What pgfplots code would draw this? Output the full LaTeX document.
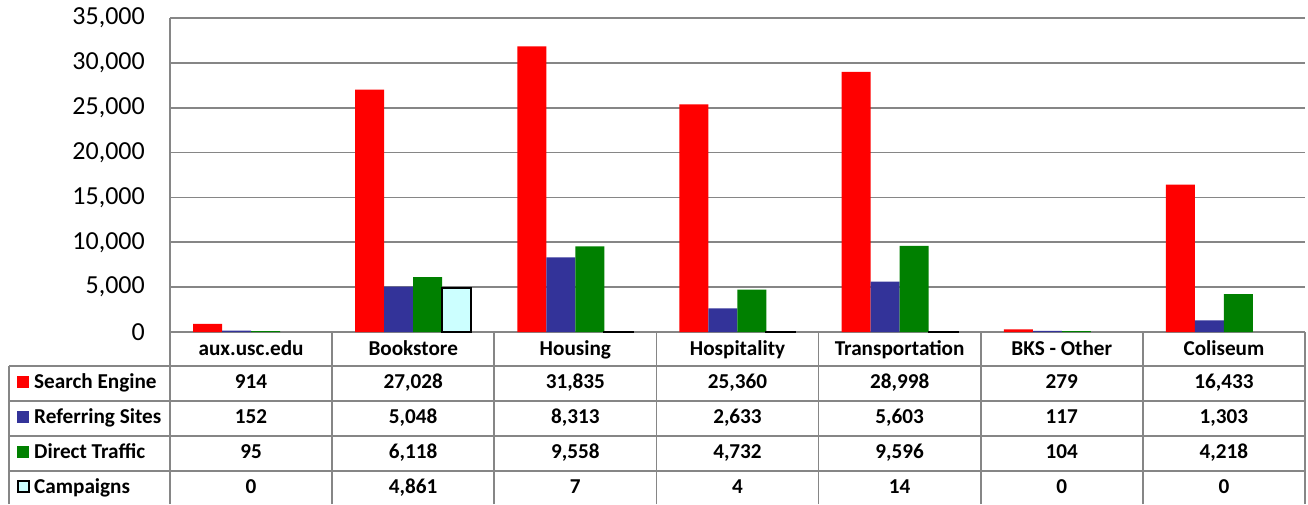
\documentclass[border=0pt]{standalone}
\usepackage{fontspec}
\setmainfont{Carlito}
\usepackage{pgfplots}
\pgfplotsset{compat=1.18}
\definecolor{se}{RGB}{255,0,0}
\definecolor{rs}{RGB}{51,51,153}
\definecolor{dt}{RGB}{0,128,0}
\definecolor{cp}{RGB}{204,255,255}
\definecolor{grd}{RGB}{134,134,134}
\begin{document}
\begin{tikzpicture}[x=1pt,y=1pt]
\useasboundingbox (0,0) rectangle (1308,504);
\begin{axis}[
 at={(170pt,172pt)}, anchor=south west, scale only axis, width=1135pt, height=314pt,
 ybar=0pt, bar width=29pt,
 xmin=-0.5, xmax=6.5, ymin=0, ymax=35000,
 xtick=\empty, ytick={0,5000,...,35000},
 ymajorgrids, grid style={grd, line width=1.6pt},
 axis x line*=bottom, axis y line*=left, axis line style={grd, line width=1.6pt},
 major tick length=0pt,
 scaled y ticks=false,
 clip=false,
 yticklabel style={font=\fontsize{26}{30}\selectfont, inner sep=0pt, xshift=-25pt},
 /pgf/number format/.cd, 1000 sep={,}, assume math mode=true,
 ]
\addplot[fill=se, draw=none] coordinates {(0,914)(1,27028)(2,31835)(3,25360)(4,28998)(5,279)(6,16433)};
\addplot[fill=rs, draw=none] coordinates {(0,152)(1,5048)(2,8313)(3,2633)(4,5603)(5,117)(6,1303)};
\addplot[fill=dt, draw=none] coordinates {(0,95)(1,6118)(2,9558)(3,4732)(4,9596)(5,104)(6,4218)};
\addplot[fill=cp, draw=black, line width=2pt] coordinates {(1,4861)(2,7)(3,4)(4,14)};
\end{axis}
% table grid
\begin{scope}[draw=grd, line width=1.6pt]
\draw (9,138) -- (1305,138);
\draw (9,103) -- (1305,103);
\draw (9,68) -- (1305,68);
\draw (9,33) -- (1305,33);
\draw (9,0) -- (9,138);
\foreach \k in {0,...,7} {\draw ({170+\k*162.14},0) -- ({170+\k*162.14},172);}
\end{scope}
\begin{scope}[every node/.style={font=\fontsize{21.2}{24}\selectfont\bfseries, inner sep=0pt, anchor=base}]
\foreach \t [count=\i from 0] in {aux.usc.edu,Bookstore,Housing,Hospitality,Transportation,BKS - Other,Coliseum}
  {\node at ({170+(\i+0.5)*162.14},149) {\t};}
\foreach \t [count=\i from 0] in {914,{27,028},{31,835},{25,360},{28,998},279,{16,433}}
  {\node at ({170+(\i+0.5)*162.14},116) {\t};}
\foreach \t [count=\i from 0] in {152,{5,048},{8,313},{2,633},{5,603},117,{1,303}}
  {\node at ({170+(\i+0.5)*162.14},81) {\t};}
\foreach \t [count=\i from 0] in {95,{6,118},{9,558},{4,732},{9,596},104,{4,218}}
  {\node at ({170+(\i+0.5)*162.14},46) {\t};}
\foreach \t [count=\i from 0] in {0,{4,861},7,4,14,0,0}
  {\node at ({170+(\i+0.5)*162.14},11) {\t};}
\fill[se] (17,116) rectangle (29,128);
\fill[rs] (17,81) rectangle (29,93);
\fill[dt] (17,46) rectangle (29,58);
\filldraw[fill=cp, draw=black, line width=2pt] (18,12) rectangle (29,23);
\node[anchor=base west] at (34,116) {Search Engine};
\node[anchor=base west] at (34,81) {Referring Sites};
\node[anchor=base west] at (34,46) {Direct Traffic};
\node[anchor=base west] at (34,11) {Campaigns};
\end{scope}
\end{tikzpicture}
\end{document}
